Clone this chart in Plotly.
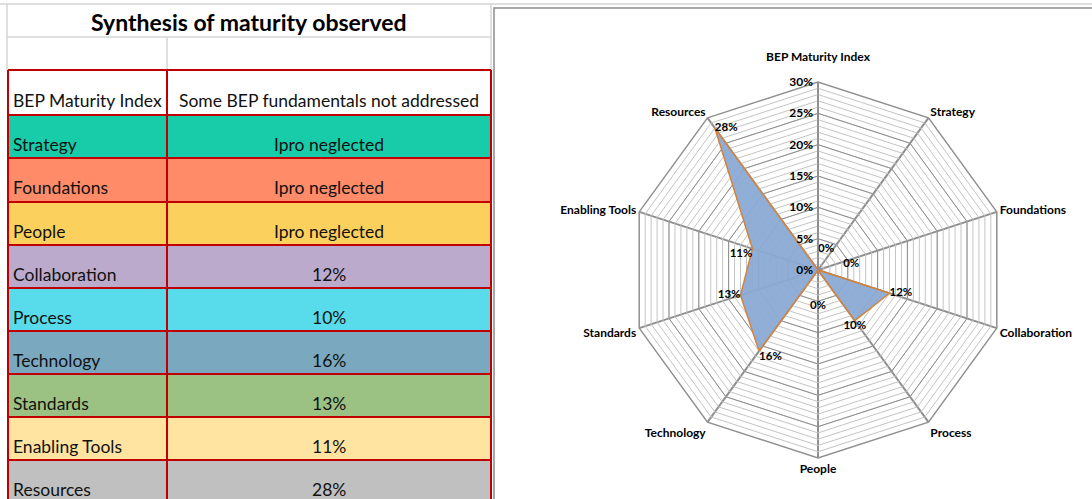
import plotly.graph_objects as go

W, H = 1092, 499

# ---------------- data ----------------
table_title = "Synthesis of maturity observed"
header_left = "BEP Maturity Index"
header_right = "Some BEP fundamentals not addressed"
table_rows = ["Strategy", "Foundations", "People", "Collaboration", "Process",
              "Technology", "Standards", "Enabling Tools", "Resources"]
table_values = ["Ipro neglected", "Ipro neglected", "Ipro neglected", "12%", "10%",
                "16%", "13%", "11%", "28%"]
row_colors = ["#18CCAA", "#FF8B69", "#FCD05C", "#BBAACC", "#58DBEA",
              "#7AA8BF", "#9BC283", "#FFE4A1", "#C0C0C0"]

radar_axes = ["BEP Maturity Index", "Strategy", "Foundations", "Collaboration", "Process",
              "People", "Technology", "Standards", "Enabling Tools", "Resources"]
radar_values = [0.0, 0.0, 0.0, 0.12, 0.10, 0.0, 0.16, 0.13, 0.11, 0.28]
label_positions = ["top right", "top right", "top right", "middle right", "bottom center",
                   "bottom center", "bottom right", "middle left", "bottom left", "middle right"]
minor_ticks = [i / 100 for i in range(0, 31)]
major_ticks = [0.05, 0.10, 0.15, 0.20, 0.25]

FONT = "Lato"
NB = "\u00a0"


def px(x):
    return x / W


def py(y):
    return 1 - y / H


def pct(v):
    return f"{v*100:.0f}%"


# data labels (zero labels nudged apart like the spreadsheet chart does)
labels = [pct(v) for v in radar_values]
labels[0] = labels[0] + "<br>" + NB                  # BEP Maturity Index
labels[1] = NB * 9 + labels[1]                        # Strategy
labels[2] = ""                                        # Foundations (hidden under Strategy)
labels[5] = NB + "<br>" + NB + "<br>" + labels[5]     # People

fig = go.Figure()

# major gridline polygons (drawn under data)
for t in major_ticks:
    fig.add_trace(go.Scatterpolar(
        r=[t] * (len(radar_axes) + 1), theta=radar_axes + radar_axes[:1],
        mode="lines", line=dict(color="#8f8f8f", width=1), cliponaxis=True,
        hoverinfo="skip", showlegend=False))

# data series
fig.add_trace(go.Scatterpolar(
    r=radar_values + radar_values[:1], theta=radar_axes + radar_axes[:1],
    mode="lines+text", fill="toself", fillcolor="rgba(138,170,212,0.95)",
    line=dict(color="#D4823A", width=1.5), cliponaxis=True,
    text=labels + [""],
    textposition=label_positions + ["top center"],
    textfont=dict(family=FONT, size=11.5, color="black", weight="bold"),
    showlegend=False, hoverinfo="skip"))

axis_text = [a + "<br>" + NB if i == 0 else a for i, a in enumerate(radar_axes)]

cx, cy, R = 818, 270, 188
fig.update_layout(
    width=W, height=H, margin=dict(l=0, r=0, t=0, b=0),
    paper_bgcolor="white", showlegend=False,
    polar=dict(
        domain=dict(x=[px(cx - R), px(cx + R)], y=[py(cy + R), py(cy - R)]),
        gridshape="linear", bgcolor="white",
        angularaxis=dict(direction="clockwise", rotation=90, showline=True,
                         linecolor="#8f8f8f", linewidth=1.5, gridcolor="#8f8f8f",
                         gridwidth=1.5, ticks="",
                         tickvals=radar_axes, ticktext=axis_text,
                         tickfont=dict(family=FONT, size=12, color="black", weight="bold")),
        radialaxis=dict(range=[0, 0.30], angle=90, tickangle=90, side="counterclockwise",
                        tickvals=minor_ticks,
                        ticktext=[pct(t) if round(t*100) % 5 == 0 else "" for t in minor_ticks],
                        showline=True, linecolor="#8f8f8f", linewidth=1.5,
                        gridcolor="#c4c4c4", gridwidth=1, ticks="",
                        tickfont=dict(family=FONT, size=12, color="black", weight="bold")),
    ),
)

shapes = []
annotations = []
GRAY = "#d4d4d4"
RED = "#C00000"

# spreadsheet light gridlines
shapes.append(dict(type="line", xref="paper", yref="paper", x0=0, x1=1, y0=py(4), y1=py(4),
                   line=dict(color=GRAY, width=1.5)))
shapes.append(dict(type="line", xref="paper", yref="paper", x0=px(7), x1=px(491), y0=py(37), y1=py(37),
                   line=dict(color=GRAY, width=1.5)))
for xv in [7, 491]:
    shapes.append(dict(type="line", xref="paper", yref="paper", x0=px(xv), x1=px(xv), y0=py(4), y1=py(70),
                       line=dict(color=GRAY, width=1.5)))
shapes.append(dict(type="line", xref="paper", yref="paper", x0=px(167), x1=px(167), y0=py(37), y1=py(70),
                   line=dict(color=GRAY, width=1.5)))

annotations.append(dict(xref="paper", yref="paper", x=px(249), y=py(22), text=table_title,
                        showarrow=False, font=dict(family=FONT, size=23, color="black", weight="bold"),
                        xanchor="center", yanchor="middle"))

# table rows
bounds = [70, 115, 158, 202, 245, 288, 331, 374, 417, 460, 503]
rows_left = [header_left] + table_rows
rows_right = [header_right] + table_values
fills = ["white"] + row_colors
for i in range(len(rows_left)):
    y0, y1 = bounds[i], bounds[i + 1]
    shapes.append(dict(type="rect", xref="paper", yref="paper", x0=px(8), x1=px(491),
                       y0=py(y1), y1=py(y0), fillcolor=fills[i], line=dict(width=0), layer="below"))
    annotations.append(dict(xref="paper", yref="paper", x=px(11), y=py(y1 - 14), text=rows_left[i],
                            showarrow=False, font=dict(family=FONT, size=17.5, color="#111"),
                            xanchor="left", yanchor="middle"))
    annotations.append(dict(xref="paper", yref="paper", x=px(329), y=py(y1 - 14), text=rows_right[i],
                            showarrow=False, font=dict(family=FONT, size=17.5, color="#111"),
                            xanchor="center", yanchor="middle"))

# red borders
for b in bounds:
    shapes.append(dict(type="line", xref="paper", yref="paper", x0=px(8), x1=px(491), y0=py(b), y1=py(b),
                       line=dict(color=RED, width=2)))
for xv in [8, 167, 491]:
    shapes.append(dict(type="line", xref="paper", yref="paper", x0=px(xv), x1=px(xv), y0=py(70), y1=py(503),
                       line=dict(color=RED, width=2)))

# chart area border
shapes.append(dict(type="rect", xref="paper", yref="paper", x0=px(494), x1=px(1100), y0=py(510), y1=py(8),
                   line=dict(color="#8c8c8c", width=1.5), fillcolor="rgba(0,0,0,0)"))

fig.update_layout(shapes=shapes, annotations=annotations)
fig.write_html("out.html", config={"displayModeBar": False},
               post_script="document.body.style.margin='0';document.body.style.overflow='hidden';")
